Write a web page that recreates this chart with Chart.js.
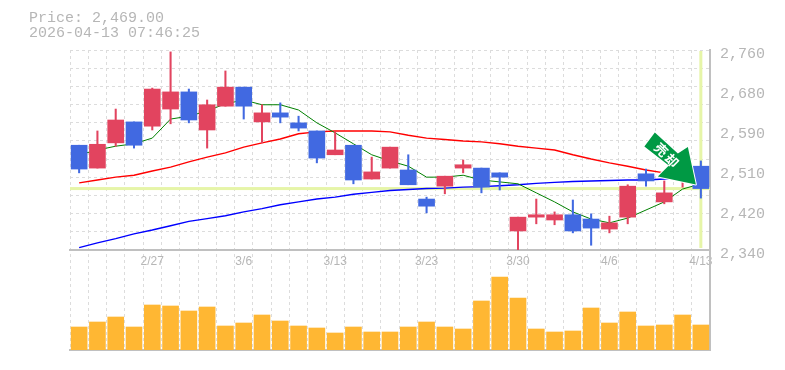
<!DOCTYPE html>
<html>
<head>
<meta charset="utf-8">
<style>
  html, body { margin: 0; background: #fff; }
  #wrap { position: relative; width: 785px; height: 370px; }
  #info { position: absolute; left: 29px; top: 11px; font: 15px/15px "Liberation Mono", monospace; color: #b6b6b6; white-space: pre; }
  canvas { display: block; }
</style>
<script src="https://cdn.jsdelivr.net/npm/chart.js@4/dist/chart.umd.min.js"></script>
</head>
<body>
<div id="wrap">
  <div id="info">Price: 2,469.00
2026-04-13 07:46:25</div>
  <canvas id="chart" width="785" height="370"></canvas>
</div>
<script>
const dates = ['2/20', '2/24', '2/25', '2/26', '2/27', '3/2', '3/3', '3/4', '3/5', '3/6', '3/9', '3/10', '3/11', '3/12', '3/13', '3/16', '3/17', '3/18', '3/19', '3/23', '3/24', '3/25', '3/26', '3/27', '3/30', '3/31', '4/1', '4/2', '4/3', '4/6', '4/7', '4/8', '4/9', '4/10', '4/13'];
const shownDates = ['2/27', '3/6', '3/13', '3/23', '3/30', '4/6', '4/13'];

const open = [2560, 2512, 2565, 2609, 2600, 2636, 2672, 2592, 2642, 2682, 2609, 2628, 2607, 2590, 2540, 2560, 2489, 2512, 2508, 2447, 2474, 2512, 2512, 2502, 2380, 2409, 2403, 2414, 2405, 2384, 2409, 2500, 2441, 2491, 2516];
const close = [2510, 2562, 2613, 2560, 2678, 2672, 2613, 2645, 2682, 2642, 2628, 2619, 2596, 2533, 2550, 2487, 2504, 2556, 2477, 2432, 2495, 2519, 2472, 2493, 2409, 2414, 2414, 2380, 2386, 2397, 2474, 2485, 2460, 2523, 2469];
const high = [2560, 2590, 2636, 2609, 2680, 2756, 2678, 2655, 2716, 2682, 2645, 2649, 2621, 2590, 2588, 2560, 2535, 2556, 2540, 2451, 2495, 2529, 2512, 2502, 2409, 2447, 2420, 2445, 2416, 2411, 2477, 2510, 2485, 2523, 2527];
const low = [2502, 2512, 2558, 2554, 2592, 2605, 2607, 2554, 2642, 2615, 2565, 2607, 2590, 2523, 2540, 2479, 2489, 2512, 2477, 2418, 2458, 2502, 2460, 2466, 2340, 2395, 2393, 2376, 2350, 2376, 2395, 2474, 2437, 2472, 2449];

const ma5 = [2540, 2550, 2558, 2563, 2575, 2615, 2621, 2632, 2647, 2655, 2645, 2645, 2634, 2607, 2586, 2563, 2540, 2527, 2516, 2493, 2493, 2497, 2487, 2483, 2479, 2460, 2441, 2420, 2405, 2397, 2407, 2424, 2441, 2468, 2479];
const ma25 = [2481, 2487, 2493, 2497, 2506, 2514, 2525, 2535, 2544, 2556, 2565, 2573, 2584, 2588, 2590, 2590, 2590, 2588, 2581, 2575, 2572, 2569, 2567, 2563, 2558, 2554, 2550, 2540, 2531, 2523, 2516, 2508, 2502, 2495, 2491];
const ma75 = [2345, 2355, 2364, 2374, 2382, 2391, 2400, 2406, 2412, 2420, 2427, 2435, 2441, 2447, 2451, 2457, 2461, 2465, 2467, 2469, 2470, 2472, 2473, 2475, 2477, 2480, 2482, 2484, 2485, 2486, 2487, 2487, 2489, 2491, 2493];
const volume = [23, 28, 33, 23, 45, 44, 39, 43, 24, 27, 35, 29, 24, 22, 17, 23, 18, 18, 23, 28, 23, 21, 49, 73, 52, 21, 18, 19, 42, 27, 38, 24, 25, 35, 25];

const currentPrice = 2469;
const priceMin = 2340;
const priceMax = 2760;
const priceLabels = [2340, 2424, 2508, 2592, 2676, 2760];
const gridDivisions = 11;
const arrowText = ['売', '却'];

const RED = '#e2445f';
const BLUE = '#4169e1';
const GRID = '#dcdcdc';
const AXIS = '#c0c0c0';
const LABEL = '#b6b6b6';
const BAND = '#e6f5a8';

const candleColors = close.map((c, i) => (c >= open[i] ? RED : BLUE));

// current price cross, behind the candles
const priceBands = {
  id: 'priceBands',
  beforeDatasetsDraw(chart) {
    const { ctx, chartArea, scales } = chart;
    const y = scales.yPrice.getPixelForValue(currentPrice);
    const x = scales.x.getPixelForValue(dates.length - 1);
    ctx.save();
    ctx.fillStyle = BAND;
    ctx.fillRect(chartArea.left, y - 1.5, chartArea.width, 3);
    ctx.fillRect(x - 1.5, chartArea.top + 1, 3, scales.yPrice.bottom - chartArea.top - 3);
    ctx.restore();
  }
};

// arrow pointing at the last close
const arrowMark = {
  id: 'arrowMark',
  afterDatasetsDraw(chart) {
    const { ctx, scales } = chart;
    const tipX = scales.x.getPixelForValue(dates.length - 1) - 5;
    const tipY = scales.yPrice.getPixelForValue(close[close.length - 1]) - 4;
    const shape = [[0, 0], [-8, -37.5], [-18, -31], [-41, -52], [-51.5, -38], [-27, -19], [-38, -8]];
    ctx.save();
    ctx.translate(tipX, tipY);
    ctx.beginPath();
    shape.forEach((p, i) => (i ? ctx.lineTo(p[0], p[1]) : ctx.moveTo(p[0], p[1])));
    ctx.closePath();
    ctx.lineJoin = 'round';
    ctx.lineWidth = 2;
    ctx.strokeStyle = '#fff';
    ctx.stroke();
    ctx.fillStyle = '#009944';
    ctx.fill();
    ctx.fillStyle = '#fff';
    ctx.font = 'bold 13px "Noto Sans CJK JP"';
    ctx.textAlign = 'center';
    ctx.textBaseline = 'middle';
    [[-34.5, -35], [-24, -24]].forEach((p, i) => {
      ctx.save();
      ctx.translate(p[0], p[1]);
      ctx.rotate(Math.PI / 4);
      ctx.fillText(arrowText[i], 0, 0);
      ctx.restore();
    });
    ctx.restore();
  }
};

const lineDataset = (data, color, width) => ({
  type: 'line',
  data,
  yAxisID: 'yPrice',
  borderColor: color,
  borderWidth: width,
  pointRadius: 0,
  tension: 0,
  order: 3
});

// eslint-disable-next-line no-new
new Chart(document.getElementById('chart'), {
  data: {
    labels: dates,
    datasets: [
      {
        type: 'bar',
        data: open.map((o, i) => [o, close[i]]),
        yAxisID: 'yPrice',
        backgroundColor: candleColors,
        barThickness: 16,
        grouped: false,
        order: 1
      },
      {
        type: 'bar',
        data: low.map((l, i) => [l, high[i]]),
        yAxisID: 'yPrice',
        backgroundColor: candleColors,
        barThickness: 1.4,
        grouped: false,
        order: 2
      },
      lineDataset(ma5, '#008000', 1),
      lineDataset(ma25, '#ff0000', 1.4),
      lineDataset(ma75, '#0000ff', 1.4),
      {
        type: 'bar',
        data: volume,
        yAxisID: 'yVolume',
        backgroundColor: '#ffb733',
        barThickness: 16,
        grouped: false,
        order: 4
      }
    ]
  },
  options: {
    responsive: false,
    animation: false,
    events: [],
    layout: { padding: { left: 70, top: 50, right: 0, bottom: 20 } },
    plugins: { legend: { display: false }, tooltip: { enabled: false } },
    scales: {
      x: {
        position: 'bottom',
        offset: true,
        grid: { color: GRID, offset: true, drawTicks: false },
        border: { color: AXIS, width: 2, dash: [3, 3] },
        ticks: { display: false },
        afterFit(scale) { scale.height = 0; }
      },
      xDates: {
        type: 'category',
        axis: 'x',
        labels: dates,
        position: { yVolume: 100 },
        offset: true,
        grid: { display: false, drawTicks: false },
        border: { color: AXIS, width: 2 },
        ticks: {
          autoSkip: false,
          maxRotation: 0,
          padding: 4,
          color: LABEL,
          font: { family: '"Liberation Sans"', size: 12 },
          callback(value) {
            const label = this.getLabelForValue(value);
            return shownDates.includes(label) ? label : '';
          }
        },
        afterFit(scale) { scale.height = 0; }
      },
      yPrice: {
        position: 'right',
        stack: 'panels',
        stackWeight: 2,
        min: priceMin,
        max: priceMax,
        grid: {
          drawTicks: false,
          color: (ctx) => (priceLabels.includes(ctx.tick.value) && ctx.tick.value !== priceMin && ctx.tick.value !== priceMax ? 'transparent' : GRID)
        },
        border: { color: AXIS, width: 2, dash: [3, 3] },
        ticks: {
          autoSkip: false,
          padding: 10,
          labelOffset: 4,
          color: LABEL,
          font: { family: '"Liberation Mono"', size: 15 },
          callback(value) {
            return priceLabels.includes(value) ? (Math.round(value / 10) * 10).toLocaleString('en-US') : '';
          }
        },
        afterBuildTicks(scale) {
          const step = (priceMax - priceMin) / gridDivisions;
          const values = new Set(priceLabels);
          for (let i = 0; i <= gridDivisions; i += 1) {
            values.add(priceMin + step * i);
          }
          scale.ticks = [...values].sort((a, b) => a - b).map((value) => ({ value }));
        },
        afterFit(scale) { scale.width = 75; }
      },
      yVolume: {
        position: 'right',
        stack: 'panels',
        stackWeight: 1,
        min: 0,
        max: 100,
        grid: { display: false, drawTicks: false },
        border: { color: AXIS, width: 2 },
        ticks: { display: false },
        afterFit(scale) { scale.width = 75; }
      }
    }
  },
  plugins: [priceBands, arrowMark]
});
</script>
</body>
</html>
